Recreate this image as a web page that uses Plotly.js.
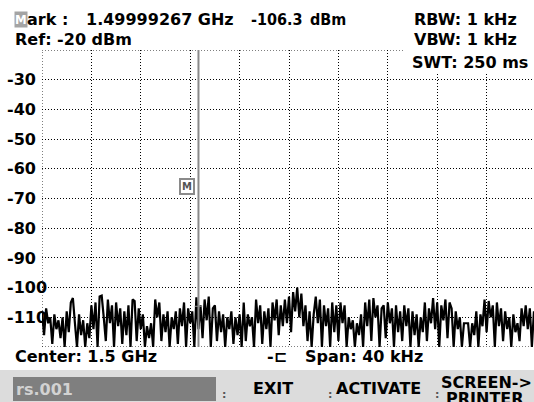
<!DOCTYPE html>
<html><head><meta charset="utf-8">
<script src="https://cdn.plot.ly/plotly-3.0.1.min.js"></script>
<style>html,body{margin:0;padding:0;background:#fff}#chart{width:534px;height:402px}</style>
</head><body><div id="chart"></div>
<script>
// ---- chart values ----
const centerGHz = 1.5;
const spanKHz = 40;
const refLevel = -20;
const bottomLevel = -120;
const yGridValues = [-120, -110, -100, -90, -80, -70, -60, -50, -40, -30, -20];
const yTickLabels = ['', '-110', '-100', '-90', '-80', '-70', '-60', '-50', '-40', '-30', ''];
const markerGHz = 1.49999267;
const markerLevel = -106.3;
// trace levels (dBm), read left to right across the 40 kHz span
const levels = [
  -108, -116, -107, -112, -110, -119, -109, -114, -111, -117,
  -110, -120, -108, -115, -105, -103.5, -112, -120, -109, -116,
  -111, -120, -112, -117, -106, -114, -105, -120, -103, -102.7,
  -110, -118, -104, -112, -106, -120, -105, -113, -107, -119,
  -108, -116, -106, -120, -104, -104.5, -118, -107, -114,
  -109, -120, -113, -117, -112, -120, -104, -110, -105, -118,
  -109, -115, -108, -120, -110, -114, -108, -119, -107, -113,
  -105, -120, -107, -112, -108, -120, -103.3, -114, -106, -117,
  -104, -111, -103, -120, -107, -106, -118, -108, -115,
  -109, -120, -110, -114, -108, -119, -110, -116, -109, -120,
  -105, -118, -109, -113, -110, -120, -104, -112, -106, -119,
  -108, -114, -107, -120, -105, -111, -104, -116, -106, -113,
  -104, -112, -103, -115, -101.5, -108, -100, -110, -102, -113,
  -106, -118, -108, -120, -109, -103, -112, -104, -120,
  -106, -113, -107, -120, -105, -115, -106, -118, -105, -112,
  -106, -120, -110, -114, -111, -120, -112, -116, -109, -120,
  -105, -113, -104, -118, -103.5, -110, -106, -120, -107,
  -106, -117, -105, -112, -107, -120, -106, -115, -108, -118,
  -106, -113, -107, -120, -108, -116, -109, -120, -110, -115,
  -105, -118, -107, -112, -103.5, -114, -105, -120, -106, -111,
  -104, -117, -105, -107, -120, -108, -114, -110, -120,
  -112, -112, -112, -120, -112, -116, -108, -120, -109, -113,
  -104, -115, -104.5, -110, -106, -120, -105, -113, -107, -118,
  -108, -114, -110, -120, -109, -115, -112, -118, -107, -113,
  -106, -114, -107, -120, -108, -116
];

// ---- geometry ----
const W = 534, H = 402;
const M = {l: 42, r: 0, t: 50, b: 55};
const plotW = W - M.l - M.r, plotH = H - M.t - M.b;
const kHzPerPx = 1 / 12.35;
const xRange = [-spanKHz / 2, -spanKHz / 2 + plotW * kHzPerPx];
const yRange = [bottomLevel, refLevel];

const freqKHz = levels.map((_, i) => -spanKHz / 2 + i * spanKHz / (levels.length - 1));
const markerKHz = (markerGHz - centerGHz) * 1e6;

const FONT = 'DejaVu Sans, sans-serif';
const FONTC = 'DejaVu Sans Condensed, DejaVu Sans, sans-serif';
const PX = px => (px - M.l) / plotW;
const PY = py => (H - M.b - py) / plotH;
function txt(text, px, py, o = {}) {
  return Object.assign({
    xref: 'paper', yref: 'paper', x: PX(px), y: PY(py),
    xanchor: 'left', yanchor: 'middle', text, showarrow: false, borderpad: 0,
    font: {family: FONT, size: 16, color: '#000', weight: 700}
  }, o);
}
const DOT = '1px,2px';
function dotLine(x0, x1, y0, y1) {
  return {type: 'line', xref: 'x', yref: 'y', x0, x1, y0, y1, layer: 'below',
          line: {color: '#000', width: 1, dash: DOT}};
}

const traces = [
  {
    x: freqKHz, y: levels, mode: 'lines', hoverinfo: 'skip',
    line: {color: '#000', width: 2.2}
  }
];

const gridAxis = {
  showgrid: true, gridcolor: '#000', gridwidth: 1, griddash: DOT,
  zeroline: false, showline: false, ticks: '', showticklabels: false, fixedrange: true
};

const layout = {
  width: W, height: H, margin: Object.assign({pad: 0}, M),
  paper_bgcolor: '#fff', plot_bgcolor: '#fff', showlegend: false,
  xaxis: Object.assign({}, gridAxis, {range: xRange, tick0: -spanKHz / 2, dtick: spanKHz / 10}),
  yaxis: Object.assign({}, gridAxis, {
    range: yRange, tickmode: 'array', tickvals: yGridValues, ticktext: yTickLabels,
    showticklabels: true, ticklabelposition: 'inside', ticklabelstandoff: -38,
    ticklabeloverflow: 'allow', layer: 'below traces',
    tickfont: {family: FONT, size: 16, color: '#000', weight: 700}
  }),
  shapes: [
    dotLine(xRange[0], xRange[0], bottomLevel, refLevel),
    dotLine(xRange[0], xRange[1], refLevel, refLevel),
    dotLine(xRange[0], xRange[1], bottomLevel, bottomLevel),
    {type: 'rect', xref: 'paper', yref: 'paper', x0: PX(404), x1: PX(534), y0: PY(72), y1: PY(44),
     fillcolor: '#fff', line: {width: 0}, layer: 'above'},
    {type: 'line', xref: 'x', yref: 'y', x0: markerKHz, x1: markerKHz, y0: bottomLevel, y1: refLevel,
     line: {color: '#8a8a8a', width: 2}},
    {type: 'line', xref: 'x', yref: 'y', x0: markerKHz - 0.3, x1: markerKHz + 0.3, y0: markerLevel, y1: markerLevel,
     line: {color: '#8a8a8a', width: 1}},
    {type: 'rect', xref: 'paper', yref: 'paper', x0: PX(0), x1: PX(534), y0: PY(402), y1: PY(370),
     fillcolor: '#dcdcdc', line: {width: 0}},
    {type: 'rect', xref: 'paper', yref: 'paper', x0: PX(13), x1: PX(216), y0: PY(401), y1: PY(377),
     fillcolor: '#7f7f7f', line: {width: 0}}
  ],
  annotations: [
    txt('M', 13.6, 19.3, {bgcolor: '#a4a4a4', font: {family: FONTC, size: 13, color: '#fff', weight: 700}}),
    txt('ark :', 26, 19.3),
    txt('1.49999267 GHz', 85, 19.3),
    txt('-106.3', 250, 19.3, {font: {family: FONTC, size: 16, color: '#000', weight: 700}}),
    txt('dBm', 309, 19.3, {font: {family: FONTC, size: 16, color: '#000', weight: 700}}),
    txt('Ref: -20 dBm', 13.6, 39.3),
    txt('RBW: 1 kHz', 413, 19.3),
    txt('VBW: 1 kHz', 413, 39.3),
    txt('SWT: 250 ms', 411, 62),
    {xref: 'x', yref: 'y', x: markerKHz, y: -66, xshift: -11.5, text: 'M', showarrow: false,
     font: {family: FONT, size: 10, color: '#555', weight: 700}, bgcolor: '#fff',
     bordercolor: '#8a8a8a', borderwidth: 2, borderpad: 1},
    txt('Center: 1.5 GHz', 13.6, 356.7),
    txt('-⊏', 266, 356.7),
    txt('Span: 40 kHz', 304, 356.7),
    txt('rs.001', 15, 389.6, {font: {family: FONT, size: 16, color: '#d2d2d2', weight: 700}}),
    txt(':', 220.6, 394, {font: {family: FONT, size: 11, color: '#555', weight: 700}}),
    txt(':', 327, 394, {font: {family: FONT, size: 11, color: '#555', weight: 700}}),
    txt(':', 434, 394, {font: {family: FONT, size: 11, color: '#555', weight: 700}}),
    txt('EXIT', 272.5, 388.6, {xanchor: 'center'}),
    txt('ACTIVATE', 378, 388.6, {xanchor: 'center'}),
    txt('SCREEN-&gt;', 486, 382.4, {xanchor: 'center'}),
    txt('PRINTER', 485, 398.8, {xanchor: 'center'})
  ]
};

Plotly.newPlot('chart', traces, layout, {displayModeBar: false, staticPlot: true});
</script>
</body></html>
